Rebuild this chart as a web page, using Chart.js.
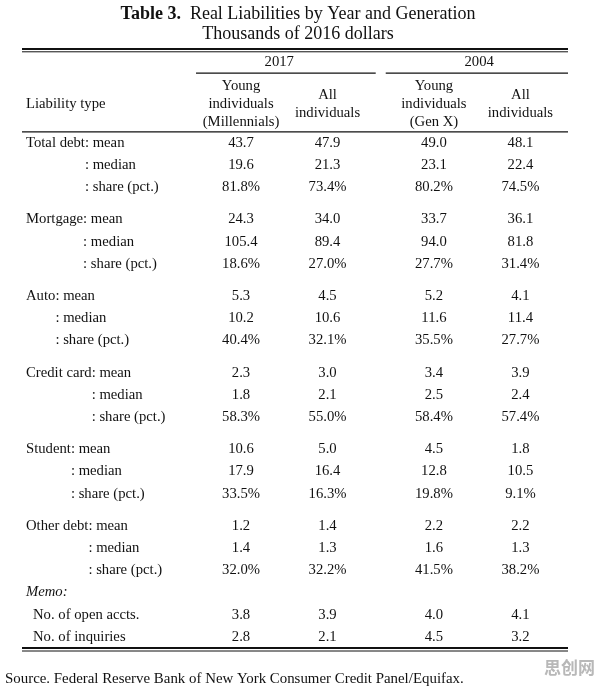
<!DOCTYPE html>
<html>
<head>
<meta charset="utf-8">
<script src="https://cdn.jsdelivr.net/npm/chart.js@4"></script>
<style>
  body { margin: 0; background: #fff; }
  #wrap { width: 596px; height: 688px; position: relative; }
</style>
</head>
<body>
<div id="wrap"><canvas id="myChart"></canvas></div>
<script>
// table content
const groups = ["Total debt", "Mortgage", "Auto", "Credit card", "Student", "Other debt"]
const stats = ["mean", "median", "share (pct.)"]
const memoRows = ["No. of open accts.", "No. of inquiries"]
const years = ["2017", "2004"]
const colHeaders = [
  ["Young", "individuals", "(Millennials)"],
  ["All", "individuals"],
  ["Young", "individuals", "(Gen X)"],
  ["All", "individuals"]
]
// 18 liability rows (mean, median, share per group) then memo: open accts, inquiries
const young2017 = [43.7, 19.6, 81.8, 24.3, 105.4, 18.6, 5.3, 10.2, 40.4, 2.3, 1.8, 58.3, 10.6, 17.9, 33.5, 1.2, 1.4, 32.0, 3.8, 2.8]
const all2017 = [47.9, 21.3, 73.4, 34.0, 89.4, 27.0, 4.5, 10.6, 32.1, 3.0, 2.1, 55.0, 5.0, 16.4, 16.3, 1.4, 1.3, 32.2, 3.9, 2.1]
const young2004 = [49.0, 23.1, 80.2, 33.7, 94.0, 27.7, 5.2, 11.6, 35.5, 3.4, 2.5, 58.4, 4.5, 12.8, 19.8, 2.2, 1.6, 41.5, 4.0, 4.5]
const all2004 = [48.1, 22.4, 74.5, 36.1, 81.8, 31.4, 4.1, 11.4, 27.7, 3.9, 2.4, 57.4, 1.8, 10.5, 9.1, 2.2, 1.3, 38.2, 4.1, 3.2]
const columns = [young2017, all2017, young2004, all2004]
const sourceNote = "Source. Federal Reserve Bank of New York Consumer Credit Panel/Equifax."

const FONT = '"Liberation Serif", "Times New Roman", serif'
const BODY = "14.7px " + FONT

// row position in table units: one unit per line, small gap after each group
function rowPos(i) {
  if (i < 18) return i + 0.45 * Math.floor(i / 3)
  return i + 1 + 0.45 * 5   // memo label takes row 18
}
function colPos(c) {
  return c + 0.23 * Math.floor(c / 2)
}

const datasets = columns.map(function(vals, c) {
  return {
    label: colHeaders[c].join(" "),
    data: vals.map(function(v, i) { return { x: colPos(c), y: rowPos(i), v: v, share: i < 18 && i % 3 == 2 } }),
    pointRadius: 0,
    showLine: false
  }
})

function line(ctx, x1, x2, y, w) {
  ctx.beginPath()
  ctx.lineWidth = w
  ctx.strokeStyle = "#111"
  ctx.moveTo(x1, y)
  ctx.lineTo(x2, y)
  ctx.stroke()
}

const tablePlugin = {
  id: "table",
  afterDatasetsDraw(chart) {
    const ctx = chart.ctx
    const xs = chart.scales.x, ys = chart.scales.y
    const area = chart.chartArea
    const yp = function(v) { return ys.getPixelForValue(v) }
    ctx.save()
    ctx.fillStyle = "#111"
    ctx.textBaseline = "middle"

    // title
    ctx.font = "bold 18px " + FONT
    const t1 = "Table 3."
    const w1 = ctx.measureText(t1).width
    ctx.font = "18px " + FONT
    const t2 = "  Real Liabilities by Year and Generation"
    const w2 = ctx.measureText(t2).width
    const cx = (area.left + area.right) / 2 + 3
    ctx.textAlign = "left"
    ctx.font = "bold 18px " + FONT
    ctx.fillText(t1, cx - (w1 + w2) / 2, 14)
    ctx.font = "18px " + FONT
    ctx.fillText(t2, cx - (w1 + w2) / 2 + w1, 14)
    ctx.textAlign = "center"
    ctx.fillText("Thousands of 2016 dollars", cx, 34)

    // rules
    line(ctx, area.left, area.right, area.top + 2, 2)
    line(ctx, area.left, area.right, area.top + 4.8, 1)
    line(ctx, area.left, area.right, area.bottom - 3, 2)
    line(ctx, area.left, area.right, area.bottom, 1)
    line(ctx, area.left, area.right, yp(-0.5), 1.2)
    const mid = (xs.getPixelForValue(colPos(1)) + xs.getPixelForValue(colPos(2))) / 2
    line(ctx, xs.getPixelForValue(colPos(0)) - 45, mid - 5, yp(-3.15), 1.2)
    line(ctx, mid + 5, area.right, yp(-3.15), 1.2)

    // header
    ctx.font = BODY
    ctx.fillText(years[0], (xs.getPixelForValue(colPos(0)) + xs.getPixelForValue(colPos(1))) / 2 - 5, yp(-3.65))
    ctx.fillText(years[1], (xs.getPixelForValue(colPos(2)) + xs.getPixelForValue(colPos(3))) / 2 + 2, yp(-3.65))
    colHeaders.forEach(function(h, c) {
      const start = h.length == 3 ? -2.57 : -2.17
      h.forEach(function(s, k) {
        ctx.fillText(s, xs.getPixelForValue(colPos(c)), yp(start + k * 0.81))
      })
    })
    ctx.textAlign = "left"
    ctx.fillText("Liability type", area.left + 4, yp(-1.74))

    // row labels, sub rows aligned on the colon of the first row
    const lx = area.left + 4
    groups.forEach(function(g, gi) {
      const offset = ctx.measureText(g).width
      stats.forEach(function(s, si) {
        const i = gi * 3 + si
        if (si == 0) ctx.fillText(g + ": " + s, lx, yp(rowPos(i)))
        else ctx.fillText(": " + s, lx + offset, yp(rowPos(i)))
      })
    })
    ctx.font = "italic " + BODY
    ctx.fillText("Memo:", lx, yp(rowPos(18) - 1))
    ctx.font = BODY
    memoRows.forEach(function(m, k) {
      ctx.fillText(m, lx + 7, yp(rowPos(18 + k)))
    })

    // cell values
    ctx.textAlign = "center"
    chart.data.datasets.forEach(function(ds, d) {
      const meta = chart.getDatasetMeta(d)
      meta.data.forEach(function(el, j) {
        const p = ds.data[j]
        ctx.fillText(p.v.toFixed(1) + (p.share ? "%" : ""), el.x, el.y)
      })
    })

    // source line and watermark
    ctx.textAlign = "left"
    ctx.font = "14.9px " + FONT
    ctx.fillText(sourceNote, 5, 679)
    ctx.font = "bold 17px 'Noto Sans CJK SC'"
    ctx.fillStyle = "#b8b8b8"
    ctx.fillText("思创网", 544, 668)
    ctx.restore()
  }
}

const ctx = document.getElementById("myChart")
const myChart = new Chart(ctx, {
  type: "scatter",
  data: { datasets: datasets },
  plugins: [tablePlugin],
  options: {
    responsive: true,
    maintainAspectRatio: false,
    animation: false,
    layout: { padding: { top: 47, bottom: 37, left: 22, right: 28 } },
    plugins: { legend: { display: false }, tooltip: { enabled: false } },
    scales: {
      x: { type: "linear", display: false, min: -2.532, max: 3.78 },
      y: { type: "linear", display: false, reverse: true, min: -4.324, max: 22.88 }
    }
  }
});
</script>
</body>
</html>
